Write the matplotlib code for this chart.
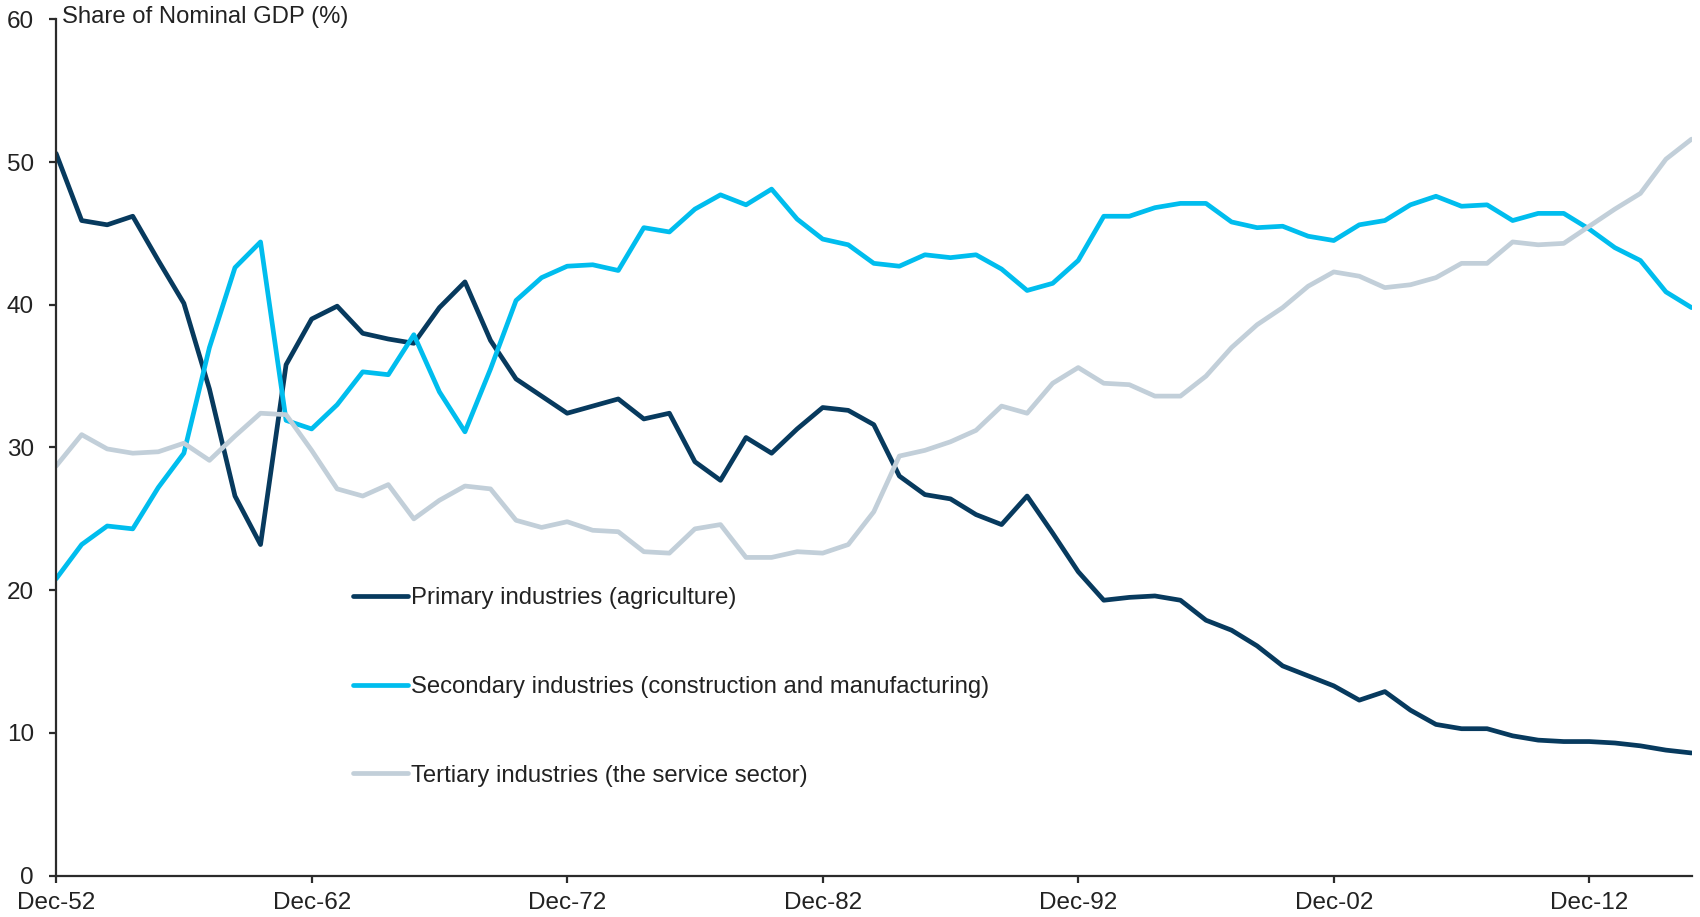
import matplotlib
matplotlib.use("Agg")
import matplotlib.pyplot as plt

years = list(range(1952, 2017))

primary = [50.6, 45.9, 45.6, 46.2, 43.1, 40.1, 34.1, 26.6, 23.2, 35.8,
           39.0, 39.9, 38.0, 37.6, 37.3, 39.8, 41.6, 37.5, 34.8, 33.6,
           32.4, 32.9, 33.4, 32.0, 32.4, 29.0, 27.7, 30.7, 29.6, 31.3,
           32.8, 32.6, 31.6, 28.0, 26.7, 26.4, 25.3, 24.6, 26.6, 24.0,
           21.3, 19.3, 19.5, 19.6, 19.3, 17.9, 17.2, 16.1, 14.7, 14.0,
           13.3, 12.3, 12.9, 11.6, 10.6, 10.3, 10.3, 9.8, 9.5, 9.4,
           9.4, 9.3, 9.1, 8.8, 8.6]

secondary = [20.8, 23.2, 24.5, 24.3, 27.2, 29.6, 37.0, 42.6, 44.4, 31.9,
             31.3, 33.0, 35.3, 35.1, 37.9, 33.9, 31.1, 35.5, 40.3, 41.9,
             42.7, 42.8, 42.4, 45.4, 45.1, 46.7, 47.7, 47.0, 48.1, 46.0,
             44.6, 44.2, 42.9, 42.7, 43.5, 43.3, 43.5, 42.5, 41.0, 41.5,
             43.1, 46.2, 46.2, 46.8, 47.1, 47.1, 45.8, 45.4, 45.5, 44.8,
             44.5, 45.6, 45.9, 47.0, 47.6, 46.9, 47.0, 45.9, 46.4, 46.4,
             45.3, 44.0, 43.1, 40.9, 39.8]

tertiary = [28.7, 30.9, 29.9, 29.6, 29.7, 30.3, 29.1, 30.8, 32.4, 32.3,
            29.8, 27.1, 26.6, 27.4, 25.0, 26.3, 27.3, 27.1, 24.9, 24.4,
            24.8, 24.2, 24.1, 22.7, 22.6, 24.3, 24.6, 22.3, 22.3, 22.7,
            22.6, 23.2, 25.5, 29.4, 29.8, 30.4, 31.2, 32.9, 32.4, 34.5,
            35.6, 34.5, 34.4, 33.6, 33.6, 35.0, 37.0, 38.6, 39.8, 41.3,
            42.3, 42.0, 41.2, 41.4, 41.9, 42.9, 42.9, 44.4, 44.2, 44.3,
            45.5, 46.7, 47.8, 50.2, 51.6]

series_labels = ["Primary industries (agriculture)",
                 "Secondary industries (construction and manufacturing)",
                 "Tertiary industries (the service sector)"]
tick_years = [1952, 1962, 1972, 1982, 1992, 2002, 2012]
tick_labels = ["Dec-52", "Dec-62", "Dec-72", "Dec-82", "Dec-92", "Dec-02", "Dec-12"]
y_label = "Share of Nominal GDP (%)"

plt.rcParams['font.family'] = ['Liberation Sans', 'DejaVu Sans']

fig = plt.figure(figsize=(17, 9.17), dpi=100)
ax = fig.add_axes([0.033, 0.045, 0.962, 0.934])

colors = ["#073A5E", "#00BDEE", "#C2CFD9"]
for vals, lab, c in zip([primary, secondary, tertiary], series_labels, colors):
    ax.plot(years, vals, color=c, lw=3.4, label=lab,
            solid_joinstyle='round', solid_capstyle='round')

ax.set_xlim(1952, 2016)
ax.set_ylim(0, 60)
ax.set_xticks(tick_years)
ax.set_xticklabels(tick_labels)
ax.set_yticks(range(0, 61, 10))
for s in ["top", "right"]:
    ax.spines[s].set_visible(False)
for s in ["left", "bottom"]:
    ax.spines[s].set_color("#2b2b2b")
    ax.spines[s].set_linewidth(1.6)
ax.tick_params(axis='both', labelsize=17.5, colors="#2b2b2b", length=5, width=1.6,
               labelcolor="#222222")
ax.tick_params(axis='x', pad=7)
ax.tick_params(axis='y', pad=11)

ax.annotate(y_label, xy=(0, 1.0), xycoords='axes fraction',
            xytext=(4, -3), textcoords='offset points', fontsize=17.2,
            color="#222222", ha='left', va='baseline')

leg = ax.legend(loc='upper left', bbox_to_anchor=(0.174, 0.351), frameon=False,
                fontsize=17.2, handlelength=2.3, handletextpad=0.15,
                labelspacing=2.8, borderpad=0, labelcolor="#222222")

fig.savefig("out.png", dpi=100)
